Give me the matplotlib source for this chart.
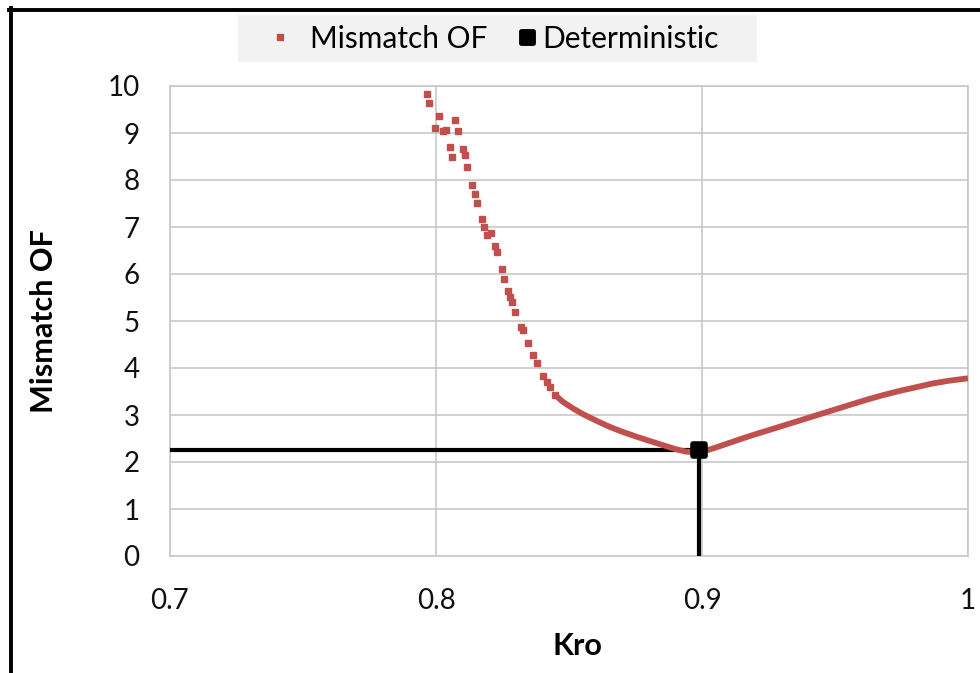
import matplotlib
matplotlib.use("Agg")
import matplotlib.pyplot as plt
from matplotlib.lines import Line2D
from matplotlib.markers import MarkerStyle
from matplotlib.patches import Rectangle

plt.rcParams['font.family'] = ['Lato', 'DejaVu Sans']

# scattered points of the mismatch objective function (steep part)
kro_sparse = [0.7965, 0.7975, 0.8012, 0.7996, 0.8028, 0.8038, 0.8071, 0.8081,
              0.8053, 0.8060, 0.8100, 0.8108, 0.8118, 0.8135, 0.8147, 0.8155,
              0.8172, 0.8180, 0.8191, 0.8206, 0.8220, 0.8228, 0.8247, 0.8257,
              0.8269, 0.8278, 0.8286, 0.8297, 0.8320, 0.8326, 0.8344, 0.8364,
              0.8379, 0.8404, 0.8416, 0.8429, 0.8447]
of_sparse = [9.83, 9.63, 9.36, 9.11, 9.05, 9.06, 9.28, 9.05,
             8.70, 8.50, 8.65, 8.53, 8.28, 7.89, 7.70, 7.52,
             7.18, 7.01, 6.83, 6.87, 6.60, 6.47, 6.10, 5.89,
             5.64, 5.52, 5.40, 5.20, 4.88, 4.81, 4.53, 4.28,
             4.10, 3.83, 3.71, 3.60, 3.43]

# dense part of the same series (points overlap into a band)
kro_dense = [0.8447, 0.8477, 0.8515, 0.8552, 0.8602, 0.8652, 0.8702, 0.8753,
             0.8802, 0.8852, 0.8903, 0.8940, 0.8978, 0.9003, 0.9053, 0.9115,
             0.9178, 0.9241, 0.9303, 0.9366, 0.9428, 0.9491, 0.9553, 0.9616,
             0.9679, 0.9741, 0.9804, 0.9866, 0.9929, 1.0]
of_dense = [3.43, 3.28, 3.14, 3.02, 2.88, 2.75, 2.64, 2.54,
            2.45, 2.36, 2.27, 2.22, 2.21, 2.22, 2.31, 2.43,
            2.55, 2.66, 2.77, 2.88, 2.99, 3.10, 3.21, 3.32,
            3.42, 3.51, 3.59, 3.67, 3.73, 3.78]

# deterministic case
kro_det = 0.899
of_det = 2.25

x_ticks = [0.7, 0.8, 0.9, 1.0]
x_labels = ['0.7', '0.8', '0.9', '1']
y_ticks = list(range(0, 11))

red = '#C0504D'
det_marker = MarkerStyle('s', joinstyle='round')

W, H = 980, 673
fig = plt.figure(figsize=(W / 100, H / 100), dpi=100)
ax = fig.add_axes([170 / W, 117 / H, 798 / W, 470 / H])

ax.plot([0.7, kro_det], [of_det, of_det], color='black', lw=3, zorder=3,
        solid_capstyle='butt')
ax.plot([kro_det, kro_det], [0, of_det], color='black', lw=3, zorder=3,
        solid_capstyle='butt')

ax.plot(kro_dense, of_dense, color=red, lw=4.2, zorder=4,
        solid_capstyle='butt', solid_joinstyle='round')
ax.plot(kro_sparse, of_sparse, 's', color=red, markersize=4.5, zorder=4)

ax.plot([kro_det], [of_det], marker=det_marker, ls='none', color='black',
        markersize=9, markeredgewidth=4, markeredgecolor='black', zorder=5)

ax.set_xlim(0.7, 1.0)
ax.set_ylim(0, 10)
ax.set_xticks(x_ticks)
ax.set_xticklabels(x_labels)
ax.set_yticks(y_ticks)
ax.grid(True, color='#C8C8C8', lw=1.2)
ax.set_axisbelow(True)
for s in ax.spines.values():
    s.set_color('#C8C8C8')
    s.set_linewidth(1.2)
ax.tick_params(axis='both', length=0, labelsize=20, colors='#111111')
ax.tick_params(axis='y', pad=22)
ax.tick_params(axis='x', pad=23)

ax.set_xlabel('Kro', fontsize=22, fontweight='bold')
ax.set_ylabel('Mismatch OF', fontsize=22, fontweight='bold')
ax.xaxis.set_label_coords(0.51, -0.162)
ax.yaxis.set_label_coords(-0.14, 0.5)

# legend background
fig.add_artist(Rectangle((238 / W, 1 - 62 / H), (757 - 238) / W, 47 / H,
                         transform=fig.transFigure, facecolor='#F2F2F2',
                         edgecolor='none', zorder=0))

leg_kw = dict(loc='center left', bbox_transform=fig.transFigure,
              frameon=False, handlelength=1.0, borderpad=0,
              borderaxespad=0)
h1 = Line2D([], [], marker='s', ls='none', color=red, markersize=4.5)
h2 = Line2D([], [], marker=det_marker, ls='none', color='black',
            markersize=8, markeredgewidth=3.5)
leg1 = ax.legend([h1], ['Mismatch OF'], bbox_to_anchor=(265 / W, 1 - 38.5 / H),
                 fontsize=21.5, handletextpad=0.5, **leg_kw)
ax.add_artist(leg1)
ax.legend([h2], ['Deterministic'], bbox_to_anchor=(512 / W, 1 - 38.5 / H),
          fontsize=21.5, handletextpad=0.0, **leg_kw)

# black frame on the left and top of the picture
fig.add_artist(Line2D([10.5 / W, 10.5 / W], [0, 1 - 8 / H],
                      transform=fig.transFigure, color='black', lw=2.8))
fig.add_artist(Line2D([9 / W, 1], [1 - 9.5 / H, 1 - 9.5 / H],
                      transform=fig.transFigure, color='black', lw=2.8))

fig.savefig('out.png', dpi=100)
